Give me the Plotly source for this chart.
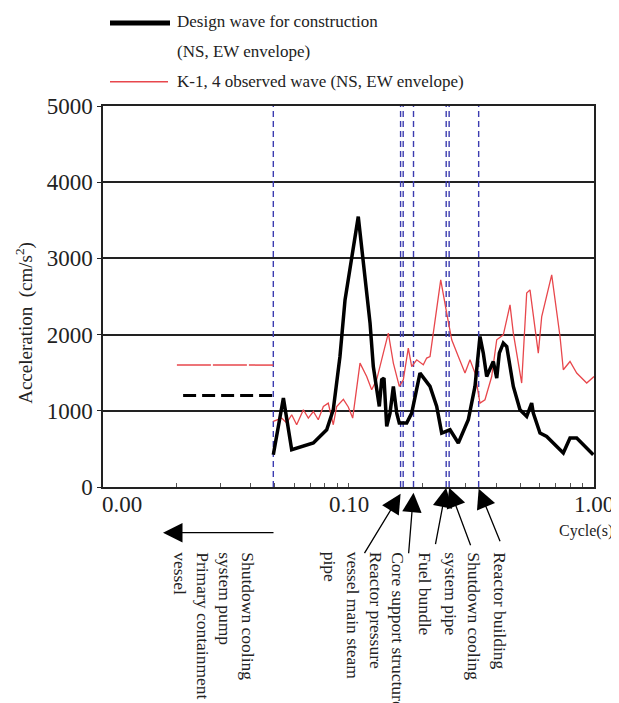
import math
import plotly.graph_objects as go

# ---------------- data ----------------
design_period = [0.0494, 0.0543, 0.0587, 0.0719, 0.0815, 0.0867, 0.0923, 0.0968, 0.1096, 0.1224,
                 0.1262, 0.1302, 0.1335, 0.1365, 0.1395, 0.1431, 0.1476, 0.1523, 0.1572, 0.1610,
                 0.1726, 0.1809, 0.1955, 0.2148, 0.2287, 0.2397, 0.2591, 0.2801, 0.3076, 0.3275,
                 0.3432, 0.3540, 0.3655, 0.3889, 0.4016, 0.4115, 0.4272, 0.4411, 0.4549, 0.4692,
                 0.4995, 0.5319, 0.5573, 0.5659, 0.6026, 0.6416, 0.7499, 0.7985, 0.8502, 0.9933]
design_accel = [424, 1167, 489, 577, 751, 1014, 1713, 2456, 3548, 2151,
                1581, 1320, 1057, 1407, 1429, 795, 970, 1320, 970, 839,
                839, 970, 1495, 1320, 1057, 708, 751, 577, 883, 1320,
                1975, 1757, 1450, 1647, 1429, 1757, 1888, 1844, 1581, 1320,
                1014, 926, 1101, 970, 708, 664, 446, 643, 643, 424]

observed_period = [0.0494, 0.0534, 0.0560, 0.0587, 0.0615, 0.0655, 0.0686, 0.0719, 0.0753, 0.0790,
                   0.0827, 0.0867, 0.0895, 0.0953, 0.0998, 0.1040, 0.1114, 0.1186, 0.1243, 0.1302,
                   0.1386, 0.1453, 0.1523, 0.1610, 0.1672, 0.1752, 0.1809, 0.1896, 0.2017, 0.2082,
                   0.2148, 0.2251, 0.2375, 0.2512, 0.2633, 0.2801, 0.2982, 0.3125, 0.3275, 0.3432,
                   0.3597, 0.3831, 0.4016, 0.4272, 0.4549, 0.4692, 0.5075, 0.5319, 0.5486, 0.5931,
                   0.6124, 0.6725, 0.7271, 0.7499, 0.7985, 0.8502, 0.9339, 1.0]
observed_accel = [860, 905, 839, 948, 817, 1014, 905, 991, 883, 1057,
                  1101, 817, 1057, 1150, 1050, 905, 1626, 1450, 1276, 1407,
                  1757, 2019, 1626, 1320, 1407, 1823, 1581, 1669, 1604, 1692,
                  1713, 2194, 2718, 2282, 1932, 1713, 1495, 1669, 1495, 1101,
                  1145, 1450, 1932, 1997, 2390, 2019, 1364, 2544, 2587, 1757,
                  2237, 2784, 1975, 1539, 1647, 1495, 1364, 1450]

design_flat_period = [0.0212, 0.0494]
design_flat_accel = [1200, 1200]
observed_flat_period = [0.0200, 0.0494]
observed_flat_accel = [1600, 1600]

component_periods = [0.0494, 0.163, 0.167, 0.184, 0.250, 0.257, 0.339]

y_ticks = [0, 1000, 2000, 3000, 4000, 5000]
x_tick_values = [0.01, 0.1, 1.0]
x_tick_labels = ["0.00", "0.10", "1.00"]
x_minor_ticks = [m * d for d in (0.01, 0.1) for m in range(1, 10)] + [1.0]

legend_design = ["Design wave for construction", "(NS, EW envelope)"]
legend_observed = "K-1, 4 observed wave (NS, EW envelope)"

# ---------------- styling ----------------
SERIF = "Liberation Serif, Times New Roman, serif"
TXT = "#222222"
BLUE = "#3b3bb0"
RED = "#e8474c"

OFF = 8  # page body margin of the browser
W, H = 619 - OFF, 703 - OFF
PLOT_L, PLOT_R, PLOT_T, PLOT_B = 103, 594, 106, 487.3  # in window pixels
ML, MT = PLOT_L - OFF, PLOT_T - OFF
MR = W - (PLOT_R - OFF)
MB = H - (PLOT_B - OFF)
PW, PH = PLOT_R - PLOT_L, PLOT_B - PLOT_T


def px(x):
    return (x - PLOT_L) / PW


def py(y):
    return (PLOT_B - y) / PH


fig = go.Figure()

# component dashed lines
vx, vy = [], []
for p in component_periods:
    vx += [p, p, None]
    vy += [y_ticks[0], y_ticks[-1], None]
fig.add_trace(go.Scatter(x=vx, y=vy, mode="lines",
                         line=dict(color=BLUE, width=1.4, dash="6px,4px"),
                         hoverinfo="skip", showlegend=False))

fig.add_trace(go.Scatter(x=observed_flat_period, y=observed_flat_accel, mode="lines",
                         line=dict(color=RED, width=1.5, dash="34px,2px"), showlegend=False))
fig.add_trace(go.Scatter(x=design_flat_period, y=design_flat_accel, mode="lines",
                         line=dict(color="black", width=3, dash="13px,6px"), showlegend=False))
fig.add_trace(go.Scatter(x=observed_period, y=observed_accel, mode="lines",
                         line=dict(color=RED, width=1.3), showlegend=False))
fig.add_trace(go.Scatter(x=design_period, y=design_accel, mode="lines",
                         line=dict(color="black", width=3.5), showlegend=False))

ann = []
shapes = []

# x tick labels
ann.append(dict(xref="paper", yref="paper", x=px(100), y=py(490), text=x_tick_labels[0],
                xanchor="left", yanchor="top", showarrow=False,
                font=dict(family=SERIF, size=23, color=TXT)))
for v, t in zip(x_tick_values[1:], x_tick_labels[1:]):
    ann.append(dict(xref="x", yref="paper", x=math.log10(v), y=py(490), text=t,
                    xanchor="center", yanchor="top", showarrow=False,
                    font=dict(family=SERIF, size=23, color=TXT)))

ann.append(dict(xref="paper", yref="paper", x=px(586), y=py(531), text="Cycle(s)",
                xanchor="center", yanchor="middle", showarrow=False,
                font=dict(family=SERIF, size=16, color=TXT)))

ann.append(dict(xref="paper", yref="paper", x=px(25), y=py(323),
                text="Acceleration  (cm/s<sup>2</sup>)", textangle=-90,
                xanchor="center", yanchor="middle", showarrow=False,
                font=dict(family=SERIF, size=19, color=TXT)))

# legend
shapes.append(dict(type="line", xref="paper", yref="paper", x0=px(110), x1=px(170),
                   y0=py(23), y1=py(23), line=dict(color="black", width=5)))
shapes.append(dict(type="line", xref="paper", yref="paper", x0=px(110), x1=px(168),
                   y0=py(81.7), y1=py(81.7), line=dict(color=RED, width=1.5)))
ann.append(dict(xref="paper", yref="paper", x=px(175), y=py(21.7), text=legend_design[0],
                xanchor="left", yanchor="middle", showarrow=False,
                font=dict(family=SERIF, size=17, color=TXT)))
ann.append(dict(xref="paper", yref="paper", x=px(175), y=py(51.7), text=legend_design[1],
                xanchor="left", yanchor="middle", showarrow=False,
                font=dict(family=SERIF, size=17, color=TXT)))
ann.append(dict(xref="paper", yref="paper", x=px(175), y=py(81.7), text=legend_observed,
                xanchor="left", yanchor="middle", showarrow=False,
                font=dict(family=SERIF, size=17, color=TXT)))

# left bracket + arrow
shapes.append(dict(type="line", xref="x", yref="paper",
                   x0=math.log10(component_periods[0]) + 0.006, x1=math.log10(component_periods[0]) + 0.006,
                   y0=0, y1=py(550), line=dict(color="#333333", width=1.3)))
ann.append(dict(xref="paper", yref="paper", x=px(163), y=py(533), ax=112, ay=0,
                text="", showarrow=True, arrowhead=2, arrowsize=3, arrowwidth=1.3,
                arrowcolor="black", standoff=0))

# component arrows: (period index, tip y px, ax, ay)
arrows = [(1, 494, -37, 61), (3, 493, -5, 62), (4, 488, -11, 58), (5, 488, 22, 59), (6, 489, 22, 54)]
for i, ty, ax, ay in arrows:
    ann.append(dict(xref="x", yref="paper", x=math.log10(component_periods[i]), y=py(ty),
                    ax=ax, ay=ay, text="", showarrow=True, arrowhead=2, arrowsize=3,
                    arrowwidth=1.3, arrowcolor="black", standoff=0))

# rotated component labels
labels = [
    (214, "Shutdown cooling<br>system pump<br>Primary containment<br>vessel"),
    (353, "Reactor pressure<br>vessel main steam<br>pipe"),
    (398, "Core support structure"),
    (425, "Fuel bundle"),
    (462.5, "Shutdown cooling<br>system pipe"),
    (500, "Reactor building"),
]
for cx, t in labels:
    ann.append(dict(xref="paper", yref="paper", x=px(cx), y=py(550), text=t, textangle=90,
                    align="left", xanchor="center", yanchor="top", showarrow=False,
                    font=dict(family=SERIF, size=17.5, color=TXT)))

fig.update_layout(
    width=W, height=H,
    margin=dict(l=ML, r=MR, t=MT, b=MB),
    paper_bgcolor="white", plot_bgcolor="white",
    showlegend=False,
    annotations=ann, shapes=shapes,
    xaxis=dict(type="log", range=[-2, 0], showgrid=False, zeroline=False,
               tickvals=x_minor_ticks, ticktext=[""] * len(x_minor_ticks), showticklabels=False,
               ticks="inside", ticklen=4, tickcolor="#555555", tickwidth=1,
               showline=True, linecolor="#222222", linewidth=1.5, mirror=True),
    yaxis=dict(range=[0, 5000], tickvals=y_ticks, ticktext=[str(v) for v in y_ticks],
               showgrid=True, gridcolor="#222222", gridwidth=1.5, zeroline=False,
               ticks="outside", ticklen=4, tickcolor="#222222",
               showline=True, linecolor="#222222", linewidth=1.5, mirror=True,
               tickfont=dict(family=SERIF, size=23, color=TXT)),
)

fig.write_html("out.html")
